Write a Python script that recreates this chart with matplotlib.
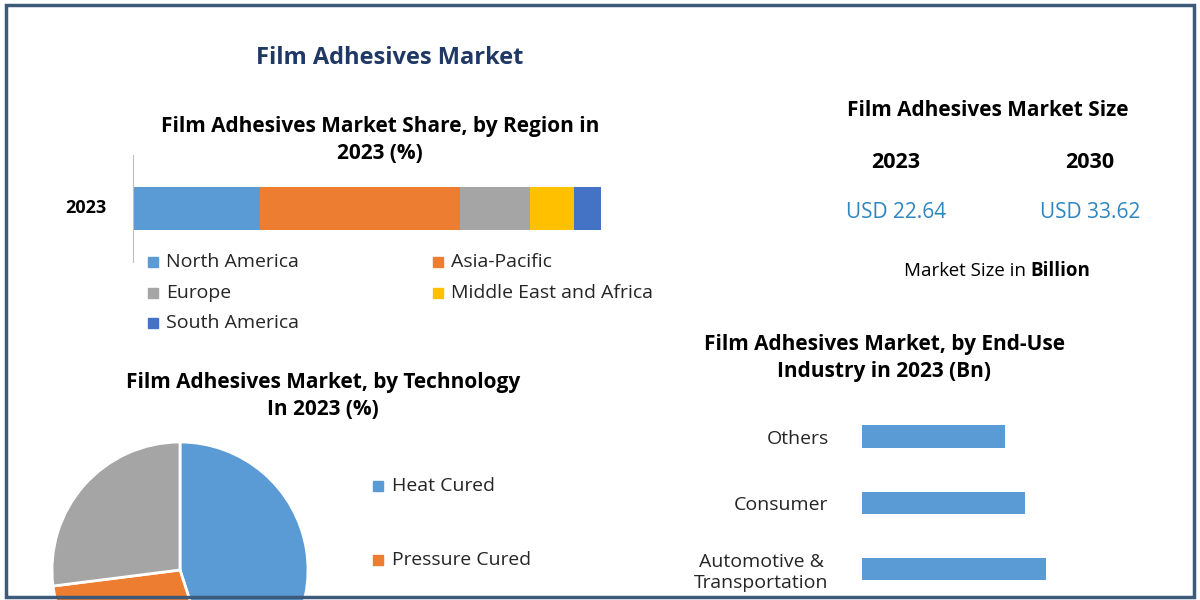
import matplotlib
matplotlib.use("Agg")
import matplotlib.pyplot as plt
from matplotlib.patches import Rectangle

regions = ["North America", "Asia-Pacific", "Europe", "Middle East and Africa", "South America"]
region_share = [27.1, 42.7, 15.0, 9.4, 5.8]
region_colors = ["#5b9bd5", "#ed7d31", "#a5a5a5", "#ffc000", "#4472c4"]

tech = ["Heat Cured", "Pressure Cured", "Others"]
tech_share = [45, 28, 27]
tech_colors = ["#5b9bd5", "#ed7d31", "#a5a5a5"]

industries = ["Automotive &\nTransportation", "Consumer", "Others"]
industry_values = [4.0, 3.55, 3.1]

size_years = ["2023", "2030"]
size_values = ["USD 22.64", "USD 33.62"]

W, H = 1200, 600
fig = plt.figure(figsize=(12, 6), dpi=100)
fig.patch.set_facecolor("white")

def fx(x): return x / W
def fy(y): return 1 - y / H
def ax_at(l, t, r, b): return fig.add_axes([fx(l), fy(b), fx(r - l), (b - t) / H])

fig.add_artist(Rectangle((fx(6), fy(597)), fx(1188), (592) / H, transform=fig.transFigure,
                         fill=False, edgecolor="#3d5a7a", lw=2.5))

F = "Open Sans"
fig.text(fx(390), fy(58), "Film Adhesives Market", ha="center", va="center", fontsize=17,
         fontweight="bold", color="#1f3864", family=F)
fig.text(fx(380), fy(140), "Film Adhesives Market Share, by Region in\n2023 (%)", ha="center",
         va="center", fontsize=15, fontweight="bold", family=F, linespacing=1.4)

# stacked bar
ax = ax_at(133, 155, 601, 262)
left = 0
for v, c in zip(region_share, region_colors):
    ax.barh(0, v, left=left, height=0.8, color=c)
    left += v
ax.set_xlim(0, 100); ax.set_ylim(-1, 1)
for s in ["top", "right", "bottom"]: ax.spines[s].set_visible(False)
ax.spines["left"].set_color("#bfbfbf")
ax.set_xticks([]); ax.set_yticks([])
fig.text(fx(86), fy(208), "2023", ha="center", va="center", fontsize=13, fontweight="bold", family=F)

leg_pos = [(148, 262), (433, 262), (148, 293), (433, 293), (148, 323)]
for (x, y), name, c in zip(leg_pos, regions, region_colors):
    fig.add_artist(Rectangle((fx(x), fy(y + 5)), fx(10), 10 / H, transform=fig.transFigure, color=c))
    fig.text(fx(x + 18), fy(y), name, ha="left", va="center", fontsize=14, family=F, color="#262626")

# market size
fig.text(fx(988), fy(110), "Film Adhesives Market Size", ha="center", va="center", fontsize=15,
         fontweight="bold", family=F)
for x, yr, val in zip([896, 1090], size_years, size_values):
    fig.text(fx(x), fy(162), yr, ha="center", va="center", fontsize=15.5, fontweight="bold", family=F)
    fig.text(fx(x), fy(213), val, ha="center", va="center", fontsize=15, color="#2e86c1", family=F)
fig.text(fx(1026), fy(271), "Market Size in", ha="right", va="center", fontsize=13.5, family=F)
fig.text(fx(1030), fy(271), "Billion", ha="left", va="center", fontsize=13.5, fontweight="bold", family=F)

# pie
fig.text(fx(323), fy(396), "Film Adhesives Market, by Technology\nIn 2023 (%)", ha="center",
         va="center", fontsize=15, fontweight="bold", family=F, linespacing=1.4)
pa = ax_at(52, 442, 308, 698)
pa.pie(tech_share, colors=tech_colors, startangle=90, counterclock=False,
       wedgeprops=dict(edgecolor="white", linewidth=2))
pa.set_xlim(-1, 1); pa.set_ylim(-1, 1)
pa.set_aspect("equal")
for y, name, c in zip([486, 560], tech[:2], tech_colors[:2]):
    fig.add_artist(Rectangle((fx(373), fy(y + 5)), fx(10), 10 / H, transform=fig.transFigure, color=c))
    fig.text(fx(392), fy(y), name, ha="left", va="center", fontsize=14, family=F, color="#262626")

# horizontal bars
fig.text(fx(884), fy(358), "Film Adhesives Market, by End-Use\nIndustry in 2023 (Bn)", ha="center",
         va="center", fontsize=15, fontweight="bold", family=F, linespacing=1.4)
hb = ax_at(862, 405, 1092, 600)
ypos = list(range(len(industries)))
hb.barh(ypos, industry_values, height=0.34, color="#5b9bd5")
hb.set_xlim(0, 5)
hb.set_ylim(-0.47, 2.48)
hb.set_yticks(ypos)
hb.set_yticklabels(industries, fontsize=14, family=F, color="#262626", multialignment="center")
hb.tick_params(axis="y", length=0, pad=24)
hb.set_xticks([])
for s in ["top", "right", "bottom", "left"]: hb.spines[s].set_visible(False)

fig.savefig("out.png", dpi=100)
